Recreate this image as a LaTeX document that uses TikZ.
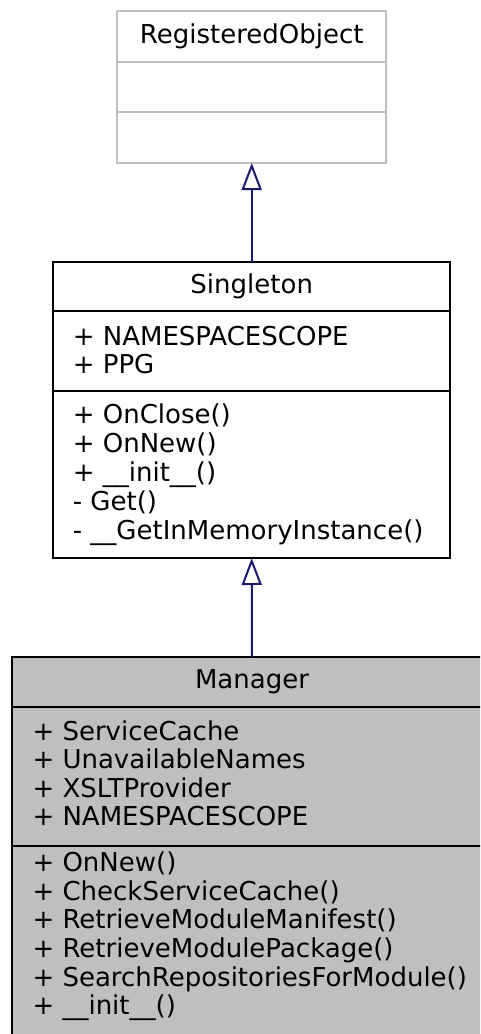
\documentclass[tikz,border=0pt]{standalone}
\usepackage{fontspec}
\setmainfont{DejaVu Sans}
\usetikzlibrary{arrows.meta}
\definecolor{edgeblue}{HTML}{191970}
\definecolor{boxgray}{HTML}{BFBFBF}
\begin{document}
\begin{tikzpicture}[x=1pt,y=-1pt,
  classbox/.style={draw=black,line width=2pt,inner sep=0pt,outer sep=0pt},
  divider/.style={line width=2pt},
  title/.style={anchor=base,inner sep=0pt,font=\fontsize{26}{28.6}\selectfont},
  member/.style={anchor=base west,inner sep=0pt,font=\fontsize{26}{28.6}\selectfont},
  inherit/.style={draw=edgeblue,line width=2pt,-{Triangle[open,length=27pt,width=20pt,line width=2pt]}}
]
\useasboundingbox (0,0) rectangle (480,1034);
\clip (0,0) rectangle (480,1034);

% RegisteredObject
\node[classbox,draw=boxgray,fill=white,minimum width=269.5pt,minimum height=152pt] (reg) at (251.7,87) {};
\draw[divider,boxgray] (117,62) -- (386.5,62);
\draw[divider,boxgray] (117,112) -- (386.5,112);
\node[title] (regtitle) at (251.7,43.3) {RegisteredObject};

% Singleton
\node[classbox,fill=white,minimum width=396.7pt,minimum height=296.3pt] (sing) at (251.7,409.85) {};
\draw[divider] (53.3,311) -- (450,311);
\draw[divider] (53.3,391) -- (450,391);
\node[title] (singtitle) at (251.7,293.3) {Singleton};
\node[member] (sa1) at (72.6,345) {+ NAMESPACESCOPE};
\node[member] (sa2) at (72.6,373.3) {+ PPG};
\node[member] (sm1) at (72.6,423) {+ OnClose()};
\node[member] (sm2) at (72.6,452.2) {+ OnNew()};
\node[member] (sm3) at (72.6,481.4) {+ \_\_init\_\_()};
\node[member] (sm4) at (72.6,510.6) {- Get()};
\node[member] (sm5) at (72.6,539.8) {- \_\_GetInMemoryInstance()};

% Manager
\node[classbox,fill=boxgray,minimum width=479.4pt,minimum height=388pt] (mgr) at (252,851) {};
\draw[divider] (12.3,707) -- (491.7,707);
\draw[divider] (12.3,845.7) -- (491.7,845.7);
\node[title] (mgrtitle) at (252,688.3) {Manager};
\node[member] (ma1) at (32.3,740) {+ ServiceCache};
\node[member] (ma2) at (32.3,768.6) {+ UnavailableNames};
\node[member] (ma3) at (32.3,797.2) {+ XSLTProvider};
\node[member] (ma4) at (32.3,825.8) {+ NAMESPACESCOPE};
\node[member] (mm1) at (32.3,871.7) {+ OnNew()};
\node[member] (mm2) at (32.3,900.3) {+ CheckServiceCache()};
\node[member] (mm3) at (32.3,928.9) {+ RetrieveModuleManifest()};
\node[member] (mm4) at (32.3,957.5) {+ RetrieveModulePackage()};
\node[member] (mm5) at (32.3,986.1) {+ SearchRepositoriesForModule()};
\node[member] (mm6) at (32.3,1014.7) {+ \_\_init\_\_()};

% inheritance
\draw[inherit] (sing.north) -- (reg.south);
\draw[inherit] (mgr.north) -- (sing.south);
\end{tikzpicture}
\end{document}
